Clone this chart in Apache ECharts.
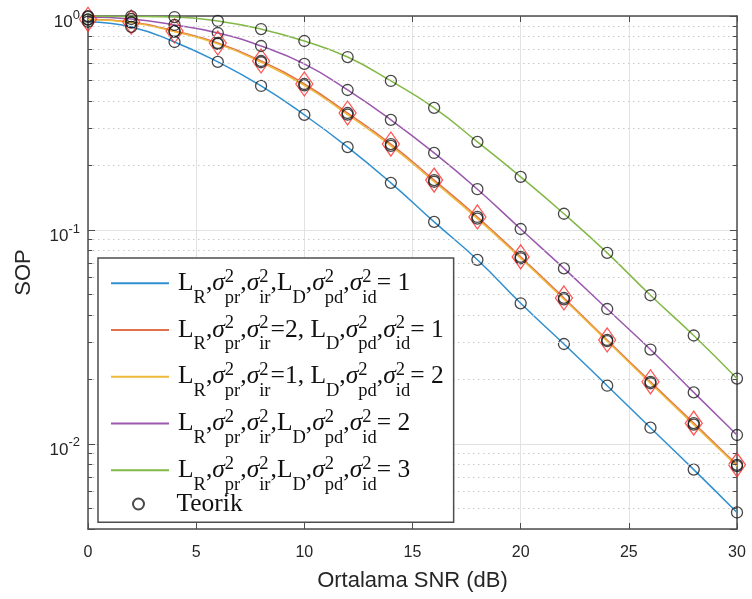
<!DOCTYPE html>
<html>
<head>
<meta charset="utf-8">
<script src="https://cdn.jsdelivr.net/npm/echarts@6/dist/echarts.min.js"></script>
<style>
  html, body { margin: 0; padding: 0; background: #fff; }
  #chart { width: 752px; height: 599px; }
</style>
</head>
<body>
<div id="chart"></div>
<script>
// Average SNR (dB) at which the secrecy outage probability is evaluated
const snr = [0, 2, 4, 6, 8, 10, 12, 14, 16, 18, 20, 22, 24, 26, 28, 30];

// SOP curves, one per parameter set
const sopAll1 = [0.94, 0.889, 0.756, 0.610, 0.471, 0.345, 0.244, 0.166, 0.109, 0.0725, 0.0454, 0.0293, 0.0187, 0.0119, 0.00758, 0.00478];
const sopR2D1 = [0.965, 0.937, 0.851, 0.748, 0.616, 0.481, 0.352, 0.252, 0.171, 0.115, 0.0748, 0.0481, 0.0306, 0.0195, 0.0125, 0.00798];
const sopR1D2 = [0.962, 0.932, 0.845, 0.741, 0.608, 0.474, 0.346, 0.247, 0.168, 0.113, 0.0737, 0.0474, 0.0302, 0.0192, 0.0123, 0.00787];
const sopAll2 = [0.99, 0.968, 0.908, 0.833, 0.724, 0.597, 0.451, 0.327, 0.229, 0.155, 0.101, 0.0661, 0.0427, 0.0276, 0.0174, 0.0110];
const sopAll3 = [0.999, 0.995, 0.989, 0.948, 0.869, 0.764, 0.643, 0.497, 0.372, 0.258, 0.177, 0.119, 0.0781, 0.0495, 0.0321, 0.0202];

// Series names and line colours
const names = [
  'LR,σ2pr,σ2ir,LD,σ2pd,σ2id = 1',
  'LR,σ2pr,σ2ir=2, LD,σ2pd,σ2id = 1',
  'LR,σ2pr,σ2ir=1, LD,σ2pd,σ2id = 2',
  'LR,σ2pr,σ2ir,LD,σ2pd,σ2id = 2',
  'LR,σ2pr,σ2ir,LD,σ2pd,σ2id = 3'
];
const theoryName = 'Teorik';
const colors = ['#2f8fd0', '#e0714a', '#efb93a', '#9a58ae', '#82b845'];

// X tick step
const xStep = 5;

const curves = [sopAll1, sopR2D1, sopR1D2, sopAll2, sopAll3];

// Rich-text legend labels with stacked super/subscripts
const sig = sub => '{i|σ}{p|2}{b|' + sub + '}';
const legendRich = [
  '{g| }{m|L}{b|R}{m|,}' + sig('pr') + '{m|,}' + sig('ir') + '{m|,L}{b|D}{m|,}' + sig('pd') + '{m|,}' + sig('id') + '{m|= 1}',
  '{g| }{m|L}{b|R}{m|,}' + sig('pr') + '{m|,}' + sig('ir') + '{m|=2, L}{b|D}{m|,}' + sig('pd') + '{m|,}' + sig('id') + '{m|= 1}',
  '{g| }{m|L}{b|R}{m|,}' + sig('pr') + '{m|,}' + sig('ir') + '{m|=1, L}{b|D}{m|,}' + sig('pd') + '{m|,}' + sig('id') + '{m|= 2}',
  '{g| }{m|L}{b|R}{m|,}' + sig('pr') + '{m|,}' + sig('ir') + '{m|,L}{b|D}{m|,}' + sig('pd') + '{m|,}' + sig('id') + '{m|= 2}',
  '{g| }{m|L}{b|R}{m|,}' + sig('pr') + '{m|,}' + sig('ir') + '{m|,L}{b|D}{m|,}' + sig('pd') + '{m|,}' + sig('id') + '{m|= 3}'
];
const legendMap = {};
names.forEach((n, i) => { legendMap[n] = legendRich[i]; });
legendMap[theoryName] = '{g| }{t|Teorik}';

const serif = 'Liberation Serif';
const sans = 'Liberation Sans';
const axisColor = '#4d4d4d';
const textColor = '#262626';

// Minor (2..9 per decade) gridlines of the log axis
const minorValues = [];
[-3, -2, -1].forEach(k => {
  for (let m = 2; m <= 9; m++) {
    const v = +(m * Math.pow(10, k)).toPrecision(3);
    if (v > 0.004 && v < 1) minorValues.push(v);
  }
});
const minorTickLen = 0.2;
const minorLines = minorValues.map(v => [{ coord: [0, v] }, { coord: [30, v] }]);
const minorTicks = [];
minorValues.forEach(v => {
  minorTicks.push([{ coord: [0, v] }, { coord: [minorTickLen, v] }]);
  minorTicks.push([{ coord: [30 - minorTickLen, v] }, { coord: [30, v] }]);
});

const logLabel = v => {
  const lg = Math.log10(v);
  const e = Math.round(lg);
  if (Math.abs(lg - e) > 1e-6) return '';
  return '{b|10}{e|' + e + '}';
};

const series = [];
// helper series carrying the dotted minor grid and minor ticks
series.push({
  type: 'line', name: 'minor', data: [], silent: true, z: 1,
  markLine: {
    silent: true, symbol: 'none', animation: false,
    label: { show: false },
    lineStyle: { type: [1.5, 3.5], color: '#c8c8c8', width: 1 },
    data: minorLines
  }
});
series.push({
  type: 'line', name: 'minorTick', data: [], silent: true, z: 6,
  markLine: {
    silent: true, symbol: 'none', animation: false,
    label: { show: false },
    lineStyle: { type: 'solid', color: axisColor, width: 1 },
    data: minorTicks
  }
});
curves.forEach((arr, i) => {
  series.push({
    type: 'line', name: names[i],
    data: snr.map((x, j) => [x, arr[j]]),
    smooth: 0.5,
    symbol: 'none', z: 2,
    lineStyle: { color: colors[i], width: 1.5 },
    itemStyle: { color: colors[i], opacity: 0 }
  });
});
// simulated points on the second curve
series.push({
  type: 'scatter', name: 'Simülasyon',
  data: snr.map((x, j) => [x, sopR2D1[j]]),
  symbol: 'diamond', symbolSize: [17, 24], z: 3,
  itemStyle: { color: 'rgba(0,0,0,0)', borderColor: '#ff2a2a', borderWidth: 1.3 }
});
// theoretical points on every curve
const theoryPts = [];
curves.forEach(arr => snr.forEach((x, j) => theoryPts.push([x, arr[j]])));
series.push({
  type: 'scatter', name: theoryName,
  data: theoryPts,
  symbol: 'circle', symbolSize: 11, z: 4,
  itemStyle: { color: 'rgba(0,0,0,0)', borderColor: '#1a1a1a', borderWidth: 1.3 }
});

const legendText = {
  rich: {
    g: { fontFamily: serif, fontSize: 25.5, width: 4, lineHeight: 32.5 },
    m: { fontFamily: serif, fontSize: 25.5, color: '#111', lineHeight: 32.5 },
    i: { fontFamily: serif, fontSize: 25.5, fontStyle: 'italic', color: '#111', lineHeight: 32.5 },
    p: { fontFamily: serif, fontSize: 18.5, color: '#111', width: 0, lineHeight: 32.5, height: 19.5, verticalAlign: 'top' },
    b: { fontFamily: serif, fontSize: 18.5, color: '#111', lineHeight: 32.5, height: 3.5, verticalAlign: 'bottom' },
    t: { fontFamily: serif, fontSize: 25.5, color: '#111', lineHeight: 32.5 }
  }
};

const chart = echarts.init(document.getElementById('chart'), null, { renderer: 'canvas' });
chart.setOption({
  animation: false,
  backgroundColor: '#fff',
  grid: { left: 88, right: 15, top: 16, bottom: 70, containLabel: false, outerBoundsMode: 'none' },
  xAxis: [{
    type: 'value', min: 0, max: 30, interval: xStep,
    axisLine: { onZero: false, lineStyle: { color: axisColor, width: 1.5 } },
    axisTick: { inside: true, length: 6, lineStyle: { color: axisColor, width: 1 } },
    axisLabel: { fontFamily: sans, fontSize: 16, color: textColor, margin: 16 },
    splitLine: { show: true, lineStyle: { color: '#e2e2e2', width: 1 } },
    name: 'Ortalama SNR (dB)', nameLocation: 'middle', nameGap: 41,
    nameTextStyle: { fontFamily: sans, fontSize: 22, color: textColor }
  }, {
    type: 'value', position: 'top', min: 0, max: 30, interval: xStep,
    axisLine: { onZero: false, lineStyle: { color: axisColor, width: 1.5 } },
    axisTick: { inside: true, length: 6, lineStyle: { color: axisColor, width: 1 } },
    axisLabel: { show: false },
    splitLine: { show: false }
  }],
  yAxis: [{
    type: 'log', logBase: 10, min: 0.004, max: 1,
    axisLine: { show: true, onZero: false, lineStyle: { color: axisColor, width: 1.5 } },
    axisTick: { show: true, inside: true, length: 7, lineStyle: { color: axisColor, width: 1 } },
    axisLabel: {
      formatter: logLabel, margin: 8,
      rich: {
        b: { fontFamily: sans, fontSize: 17, color: textColor, lineHeight: 24, padding: [12, 0, 0, 0] },
        e: { fontFamily: sans, fontSize: 13, color: textColor, lineHeight: 24, padding: [0, 0, 2, 0] }
      }
    },
    splitLine: { show: true, lineStyle: { color: '#e2e2e2', width: 1 } },
    name: 'SOP', nameLocation: 'middle', nameGap: 53,
    nameTextStyle: { fontFamily: sans, fontSize: 22, color: textColor }
  }, {
    type: 'log', logBase: 10, min: 0.004, max: 1, position: 'right',
    axisLine: { show: true, onZero: false, lineStyle: { color: axisColor, width: 1.5 } },
    axisTick: { show: true, inside: true, length: 7, lineStyle: { color: axisColor, width: 1 } },
    axisLabel: { show: false },
    splitLine: { show: false }
  }],
  legend: [{
    // framed box with the five curve entries
    orient: 'vertical', left: 98, top: 258,
    padding: [9, 10, 28, 12], itemGap: 6.5, itemWidth: 58, itemHeight: 11,
    backgroundColor: '#fff', borderColor: axisColor, borderWidth: 1.5, borderRadius: 0,
    selectedMode: false, z: 10,
    data: names,
    formatter: n => legendMap[n],
    textStyle: legendText
  }, {
    // last entry inside the same box
    orient: 'vertical', left: 132, top: 491,
    padding: 0, itemWidth: 58, itemHeight: 11,
    backgroundColor: 'rgba(0,0,0,0)', borderWidth: 0,
    selectedMode: false, z: 11,
    data: [theoryName],
    formatter: n => legendMap[n],
    textStyle: legendText
  }],
  series: series
});
</script>
</body>
</html>
